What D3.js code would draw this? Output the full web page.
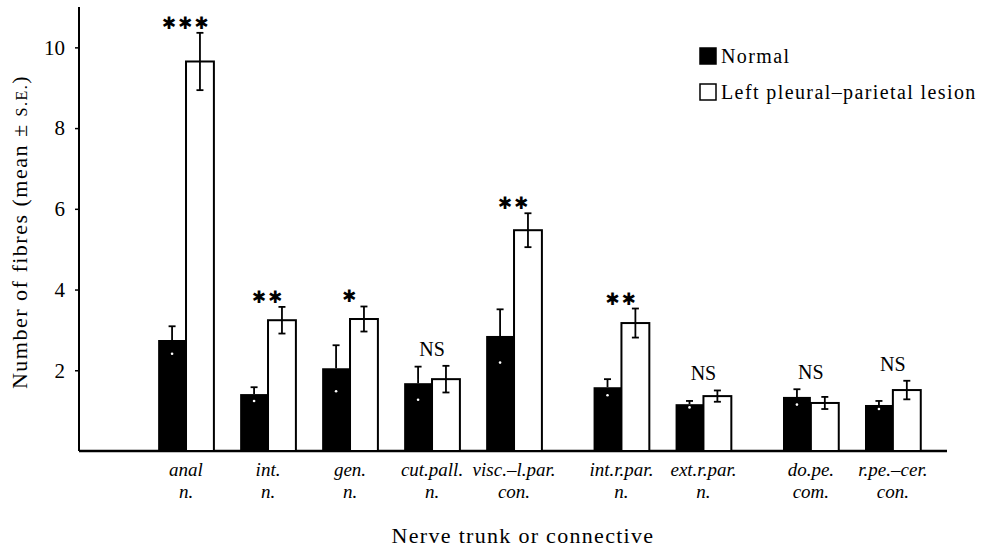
<!DOCTYPE html>
<html lang="en">
<head>
    <meta charset="UTF-8">
    <title>Number of fibres per nerve trunk</title>
    <script src="https://d3js.org/d3.v7.min.js"></script>
    <style>
        body { margin: 0; background: #fff; }
        text { font-family: "Liberation Serif", "Times New Roman", serif; fill: #000; }
    </style>
</head>
<body>
    <svg width="997" height="549"></svg>

    <script>
        // data
        const nerves = ["anal", "int.", "gen.", "cut.pall.", "visc.\u2013l.par.", "int.r.par.", "ext.r.par.", "do.pe.", "r.pe.\u2013cer."];
        const nerveType = ["n.", "n.", "n.", "n.", "con.", "n.", "n.", "com.", "con."];
        const normalMean = [2.75, 1.41, 2.05, 1.68, 2.85, 1.58, 1.16, 1.34, 1.14];
        const normalSE = [0.34, 0.17, 0.57, 0.41, 0.66, 0.20, 0.08, 0.19, 0.10];
        const lesionMean = [9.65, 3.24, 3.27, 1.78, 5.47, 3.17, 1.36, 1.19, 1.51];
        const lesionSE = [0.71, 0.33, 0.31, 0.33, 0.42, 0.36, 0.14, 0.15, 0.23];
        const significance = ["***", "**", "*", "NS", "**", "**", "NS", "NS", "NS"];
        const yTicks = [2, 4, 6, 8, 10];
        const seriesNames = ["Normal", "Left pleural\u2013parietal lesion"];

        // extra space before these groups
        const gapBefore = [5, 7];
        const slot = nerves.map((d, i) => i + 0.31 * gapBefore.filter(g => g <= i).length);

        const svg = d3.select("svg");

        const x = d3.scaleLinear().domain([-1.305, 9.28]).range([79, 947]);
        const y = d3.scaleLinear().domain([0, 11]).range([451, 7]);
        const barW = 0.34; // in slot units

        // axes
        const yAxis = svg.append("g")
            .attr("transform", "translate(79,0)")
            .call(d3.axisLeft(y).tickValues(yTicks).tickSize(4).tickPadding(10).tickFormat(d3.format("d")));
        yAxis.select(".domain").attr("stroke", "#000").attr("stroke-width", 2).attr("d", `M0,${y(11)}V${y(0)}`);
        yAxis.selectAll(".tick line").attr("stroke-width", 1.5);
        yAxis.selectAll(".tick text").style("font-size", "21px");

        svg.append("line")
            .attr("x1", x(-1.305)).attr("x2", x(9.28))
            .attr("y1", y(0)).attr("y2", y(0))
            .attr("stroke", "#000").attr("stroke-width", 2.5);

        const groups = svg.selectAll(".grp")
            .data(nerves)
            .enter().append("g")
            .attr("class", "grp");

        // normal bars (black)
        groups.append("rect")
            .attr("x", (d, i) => x(slot[i] - barW))
            .attr("width", (d, i) => x(slot[i]) - x(slot[i] - barW))
            .attr("y", (d, i) => y(normalMean[i]))
            .attr("height", (d, i) => y(0) - y(normalMean[i]))
            .attr("fill", "#000");

        // lesion bars (white, outlined)
        groups.append("rect")
            .attr("x", (d, i) => x(slot[i]))
            .attr("width", (d, i) => x(slot[i] + barW) - x(slot[i]))
            .attr("y", (d, i) => y(lesionMean[i]))
            .attr("height", (d, i) => y(0) - y(lesionMean[i]))
            .attr("fill", "#fff")
            .attr("stroke", "#000")
            .attr("stroke-width", 2);

        // error bars
        const cap = 3.5;
        groups.each(function (d, i) {
            const g = d3.select(this);
            const cn = x(slot[i] - barW / 2);
            const cl = x(slot[i] + barW / 2);
            // normal: upper whisker in black, lower end shows as white dot
            g.append("line").attr("x1", cn).attr("x2", cn)
                .attr("y1", y(normalMean[i])).attr("y2", y(normalMean[i] + normalSE[i]))
                .attr("stroke", "#000").attr("stroke-width", 1.8);
            g.append("line").attr("x1", cn - cap).attr("x2", cn + cap)
                .attr("y1", y(normalMean[i] + normalSE[i])).attr("y2", y(normalMean[i] + normalSE[i]))
                .attr("stroke", "#000").attr("stroke-width", 1.8);
            g.append("circle").attr("cx", cn).attr("cy", y(normalMean[i] - normalSE[i]))
                .attr("r", 1.3).attr("fill", "#fff");
            // lesion: full whisker
            const top = y(lesionMean[i] + lesionSE[i]);
            const bot = y(lesionMean[i] - lesionSE[i]);
            g.append("line").attr("x1", cl).attr("x2", cl).attr("y1", top).attr("y2", bot)
                .attr("stroke", "#000").attr("stroke-width", 1.8);
            g.append("line").attr("x1", cl - cap).attr("x2", cl + cap).attr("y1", top).attr("y2", top)
                .attr("stroke", "#000").attr("stroke-width", 1.8);
            g.append("line").attr("x1", cl - cap).attr("x2", cl + cap).attr("y1", bot).attr("y2", bot)
                .attr("stroke", "#000").attr("stroke-width", 1.8);

            // significance marks
            const hi = Math.min(y(lesionMean[i] + lesionSE[i]), y(normalMean[i] + normalSE[i]));
            const s = significance[i];
            if (s === "NS") {
                g.append("text").attr("x", x(slot[i])).attr("y", hi - 10)
                    .attr("text-anchor", "middle").style("font-size", "20px").text("NS");
            } else {
                g.append("text").attr("x", x(slot[i])).attr("y", hi - 4)
                    .attr("text-anchor", "middle")
                    .style("font-family", "'DejaVu Sans', sans-serif")
                    .style("font-size", "17px").style("letter-spacing", "2px")
                    .text("\u2731".repeat(s.length));
            }

            // category labels
            const lab = g.append("text").attr("text-anchor", "middle")
                .style("font-style", "italic").style("font-size", "19px");
            lab.append("tspan").attr("x", x(slot[i])).attr("y", 476).text(d);
            lab.append("tspan").attr("x", x(slot[i])).attr("y", 498).text(nerveType[i]);
        });

        // axis titles
        svg.append("text")
            .attr("x", 523).attr("y", 543)
            .attr("text-anchor", "middle")
            .style("font-size", "22px").style("letter-spacing", "1.3px")
            .text("Nerve trunk or connective");

        const yt = svg.append("text")
            .attr("transform", "translate(27,232) rotate(-90)")
            .attr("text-anchor", "middle")
            .style("font-size", "22px").style("letter-spacing", "1.5px");
        yt.append("tspan").text("Number of fibres (mean \u00b1 ");
        yt.append("tspan").style("font-size", "16px").text("S.E.");
        yt.append("tspan").text(")");

        // legend
        const legend = svg.append("g").attr("transform", "translate(699,0)");
        seriesNames.forEach((name, i) => {
            const ly = 48 + i * 36;
            legend.append("rect")
                .attr("x", 1).attr("y", ly).attr("width", 16).attr("height", 16)
                .attr("fill", i === 0 ? "#000" : "#fff")
                .attr("stroke", "#000").attr("stroke-width", 1.5);
            legend.append("text")
                .attr("x", 22).attr("y", ly + 15)
                .style("font-size", "20px").style("letter-spacing", "1.4px")
                .text(name);
        });
    </script>
</body>
</html>
